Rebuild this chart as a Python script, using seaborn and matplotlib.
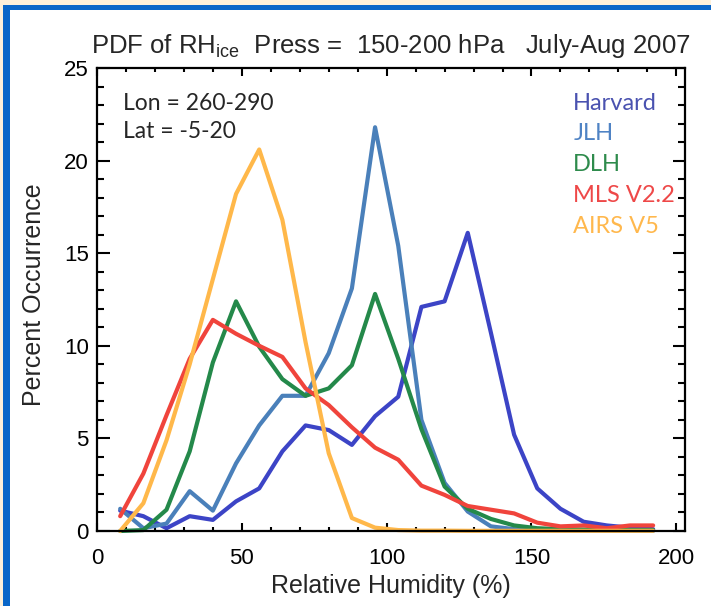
import numpy as np
import pandas as pd
import seaborn as sns
import matplotlib.pyplot as plt
from matplotlib.patches import Rectangle
from matplotlib.ticker import MultipleLocator

# bin centres (RH ice, %)
rh_bins = [8, 16, 24, 32, 40, 48, 56, 64, 72, 80, 88, 96,
           104, 112, 120, 128, 136, 144, 152, 160, 168, 176, 184, 192]

harvard = [1.1, 0.8, 0.15, 0.8, 0.6, 1.6, 2.3, 4.3, 5.7, 5.45, 4.65, 6.2,
           7.25, 12.1, 12.4, 16.1, 10.7, 5.2, 2.3, 1.2, 0.5, 0.3, 0.18, 0.1]
jlh = [1.2, 0.15, 0.4, 2.15, 1.1, 3.65, 5.7, 7.3, 7.3, 9.6, 13.1, 21.8,
       15.4, 6.0, 2.6, 1.05, 0.25, 0.1, 0.05, 0.03, 0.02, 0.02, 0.01, 0.01]
dlh = [0.0, 0.05, 1.15, 4.3, 9.1, 12.4, 9.95, 8.2, 7.3, 7.7, 8.95, 12.8,
       9.3, 5.5, 2.4, 1.2, 0.65, 0.3, 0.15, 0.1, 0.08, 0.05, 0.05, 0.05]
mls = [0.8, 3.1, 6.25, 9.3, 11.4, 10.65, 10.0, 9.4, 7.7, 6.8, 5.6, 4.5,
       3.85, 2.45, 1.95, 1.35, 1.15, 0.95, 0.45, 0.25, 0.3, 0.15, 0.3, 0.3]
airs = [0.0, 1.5, 4.9, 9.0, 13.6, 18.2, 20.6, 16.8, 10.2, 4.2, 0.7, 0.18,
        0.05, 0.02, 0.02, 0.01, 0.01, 0.01, 0.01, 0.01, 0.01, 0.01, 0.01, 0.01]

series_names = ["Harvard", "JLH", "DLH", "MLS V2.2", "AIRS V5"]
line_colors = ["#3c44c6", "#4a80ba", "#24894a", "#f0443c", "#ffb84a"]
text_colors = ["#4a52b0", "#4f83c4", "#2e8b4c", "#ee4848", "#ffb84d"]

df = pd.DataFrame({"RH": rh_bins * 5,
                   "pct": harvard + jlh + dlh + mls + airs,
                   "src": sum([[n] * len(rh_bins) for n in series_names], [])})

sns.set_style("ticks")
plt.rcParams["font.family"] = ["Liberation Sans", "DejaVu Sans"]

fig = plt.figure(figsize=(7.11, 6.06), dpi=100)
fig.patch.set_facecolor("#fdf0da")
# slide-style blue frame
fig.patches.append(Rectangle((3 / 711, 0), 1, 601 / 606, transform=fig.transFigure,
                             facecolor="#0a66c8", edgecolor="none", zorder=-5))
fig.patches.append(Rectangle((10 / 711, 0), 1, 596 / 606, transform=fig.transFigure,
                             facecolor="white", edgecolor="none", zorder=-4))

ax = fig.add_axes([97 / 711, 1 - 531 / 606, 588 / 711, 463 / 606])
ax.set_zorder(2)
sns.lineplot(data=df, x="RH", y="pct", hue="src", palette=dict(zip(series_names, line_colors)),
             hue_order=series_names, linewidth=3, legend=False, ax=ax, clip_on=False)

ax.set_xlim(0, 203)
ax.set_ylim(0, 25)
ax.xaxis.set_major_locator(MultipleLocator(50))
ax.xaxis.set_minor_locator(MultipleLocator(10))
ax.yaxis.set_major_locator(MultipleLocator(5))
ax.yaxis.set_minor_locator(MultipleLocator(1))
ax.tick_params(which="both", direction="in", top=True, right=True, width=1.5,
               labelsize=16, colors="black")
ax.tick_params(axis="x", which="major", length=6, pad=12)
ax.tick_params(axis="x", which="minor", length=3)
ax.tick_params(axis="y", which="major", length=9, pad=6)
ax.tick_params(axis="y", which="minor", length=5)
for s in ax.spines.values():
    s.set_linewidth(1.6)
    s.set_color("black")

ax.set_xlabel("Relative Humidity (%)", fontsize=18, labelpad=4)
ax.set_ylabel("Percent Occurrence", fontsize=18)
ax.yaxis.set_label_coords(-0.086, 0.51)
ax.set_title("PDF of RH$_\\mathregular{ice}$  Press =  150-200 hPa   July-Aug 2007",
             fontsize=18.5, pad=11)

ax.text(0.045, 0.924, "Lon = 260-290", transform=ax.transAxes, fontsize=16.5,
        family=["Lato", "DejaVu Sans"], va="center")
ax.text(0.045, 0.862, "Lat = -5-20", transform=ax.transAxes, fontsize=16.5,
        family=["Lato", "DejaVu Sans"], va="center")
for i, (name, c) in enumerate(zip(series_names, text_colors)):
    ax.text(0.81, 0.924 - i * 0.0665, name, transform=ax.transAxes, color=c,
            fontsize=17, family=["Lato", "DejaVu Sans"], va="center")

fig.savefig("out.png", dpi=100, facecolor=fig.get_facecolor())
